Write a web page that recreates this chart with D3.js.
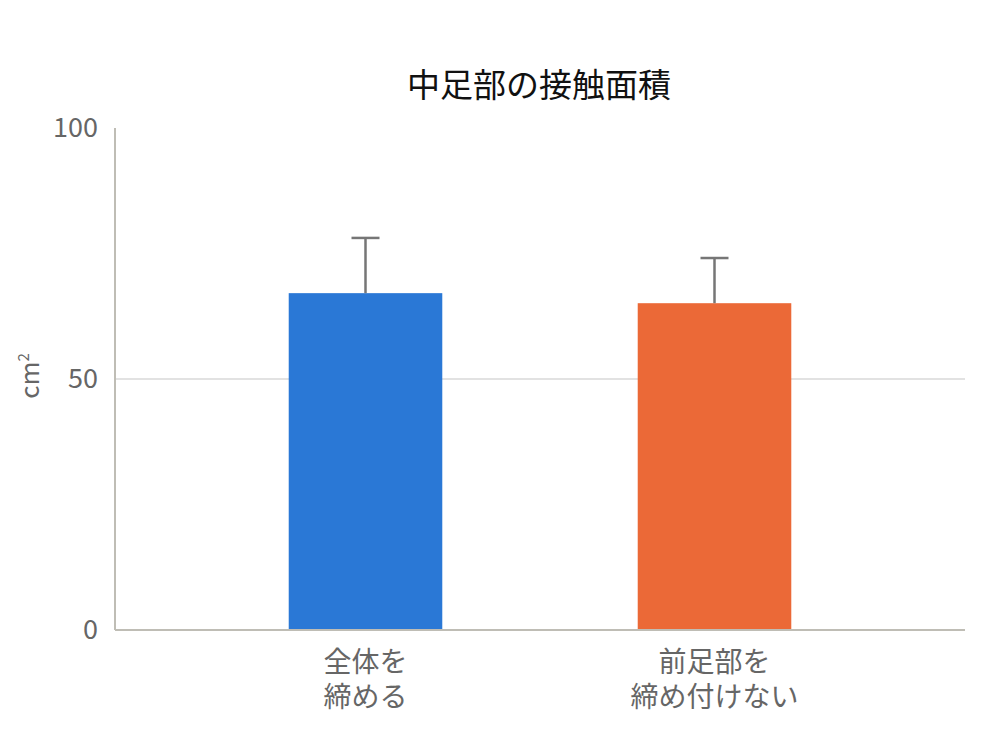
<!DOCTYPE html>
<html>
<head>
<meta charset="utf-8">
<script src="https://cdn.jsdelivr.net/npm/d3@7"></script>
<style>
  body { margin: 0; background: #fff; }
  text { font-family: "Noto Sans CJK JP", "Noto Sans", sans-serif; }
</style>
</head>
<body>
<svg id="chart" width="1000" height="750"></svg>
<script>
const categories = ["全体を\n締める", "前足部を\n締め付けない"];
const values = [67.1, 65.1];
const errors = [11.0, 9.0];
const colors = ["#2a78d6", "#eb6937"];
const yTicks = [0, 50, 100];

const svg = d3.select("#chart");
const margin = { left: 115, right: 35, top: 128, bottom: 120 };
const width = 1000, height = 750;

const y = d3.scaleLinear()
  .domain([0, 100])
  .range([height - margin.bottom, margin.top]);

// bands sit a bit inside the plot area, as in the original
const x = d3.scaleBand()
  .domain(categories)
  .range([191, 889])
  .paddingInner(0.56)
  .paddingOuter(0.28);

// gridline (only at 50)
svg.append("g")
  .selectAll("line")
  .data(yTicks.filter(d => d > 0 && d < 100))
  .join("line")
  .attr("x1", margin.left)
  .attr("x2", width - margin.right)
  .attr("y1", d => y(d))
  .attr("y2", d => y(d))
  .attr("stroke", "#d9d9d9")
  .attr("stroke-width", 1.5);

// bars
svg.append("g")
  .selectAll("rect")
  .data(categories)
  .join("rect")
  .attr("x", d => x(d))
  .attr("width", x.bandwidth())
  .attr("y", (d, i) => y(values[i]))
  .attr("height", (d, i) => y(0) - y(values[i]))
  .attr("fill", (d, i) => colors[i]);

// error bars
const err = svg.append("g")
  .attr("stroke", "#767676")
  .attr("stroke-width", 2.5);

categories.forEach((c, i) => {
  const cx = x(c) + x.bandwidth() / 2;
  err.append("line")
    .attr("x1", cx).attr("x2", cx)
    .attr("y1", y(values[i])).attr("y2", y(values[i] + errors[i]));
  err.append("line")
    .attr("x1", cx - 14).attr("x2", cx + 14)
    .attr("y1", y(values[i] + errors[i])).attr("y2", y(values[i] + errors[i]));
});

// axes lines
svg.append("line")
  .attr("x1", margin.left).attr("x2", margin.left)
  .attr("y1", y(100)).attr("y2", y(0))
  .attr("stroke", "#bfbdb5").attr("stroke-width", 2);
svg.append("line")
  .attr("x1", margin.left).attr("x2", width - margin.right)
  .attr("y1", y(0)).attr("y2", y(0))
  .attr("stroke", "#bfbdb5").attr("stroke-width", 2);

// y tick labels
svg.append("g")
  .selectAll("text")
  .data(yTicks)
  .join("text")
  .attr("x", 98)
  .attr("y", d => y(d))
  .attr("dy", "0.35em")
  .attr("text-anchor", "end")
  .attr("fill", "#666")
  .style("font-size", "27px")
  .text(d => d);

// y axis label
const yl = svg.append("text")
  .attr("transform", `translate(39,${y(50) - 3}) rotate(-90)`)
  .attr("text-anchor", "middle")
  .attr("fill", "#666")
  .style("font-size", "26px");
yl.append("tspan").text("cm");
yl.append("tspan").attr("dy", "-10").style("font-size", "15px").text("2");

// x labels
svg.append("g")
  .selectAll("text")
  .data(categories)
  .join("text")
  .attr("x", d => x(d) + x.bandwidth() / 2)
  .attr("y", 672)
  .attr("text-anchor", "middle")
  .attr("fill", "#666")
  .style("font-size", "28px")
  .each(function (d) {
    d.split("\n").forEach((line, j) => {
      d3.select(this).append("tspan")
        .attr("x", x(d) + x.bandwidth() / 2)
        .attr("dy", j === 0 ? 0 : 35)
        .text(line);
    });
  });

// title
svg.append("text")
  .attr("x", 539)
  .attr("y", 97)
  .attr("text-anchor", "middle")
  .attr("fill", "#111")
  .style("font-size", "33px")
  .text("中足部の接触面積");
</script>
</body>
</html>
